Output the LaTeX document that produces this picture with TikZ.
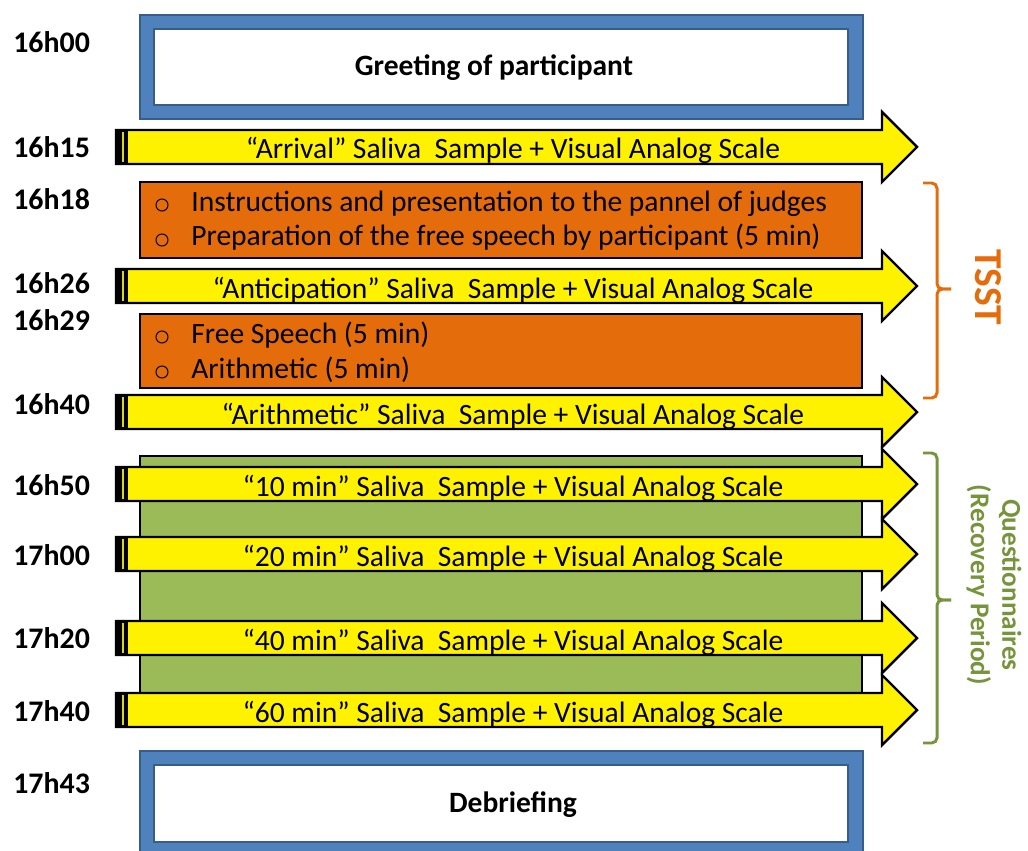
\documentclass[tikz,border=0pt]{standalone}
\usepackage{fontspec}
\setmainfont{Carlito}

\definecolor{boxblue}{HTML}{4F81BD}
\definecolor{boxbluedark}{HTML}{385D8A}
\definecolor{tsstorange}{HTML}{E46C0A}
\definecolor{recgreen}{HTML}{9BBB59}
\definecolor{recgreendark}{HTML}{77933C}

\tikzset{
	timelabel/.style={anchor=west, inner sep=0pt, font=\fontsize{17}{20}\selectfont\bfseries},
	bodytext/.style={anchor=base west, inner sep=0pt, font=\fontsize{16.8}{20}\selectfont},
	arrowtext/.style={anchor=base, font=\fontsize{16.8}{20}\selectfont},
	samplearrow/.style={fill=yellow, draw=black, line width=1.4pt, line join=miter},
	phasebox/.style={draw=black, line width=1.3pt},
	bracket/.style={line width=1.7pt, rounded corners=3pt},
}

\begin{document}
\begin{tikzpicture}[x=0.02cm, y=-0.02cm]

		\useasboundingbox (0, 0) rectangle (1028, 851);

		\draw [draw=boxbluedark, fill=boxblue, line width=0.8pt] (140, 15) rectangle (863, 119);
		\draw [draw=boxbluedark, fill=white, line width=0.8pt] (154, 29) rectangle (848, 105);
		\node [font=\fontsize{16.8}{20}\selectfont\bfseries] (greeting) at (494, 68) {Greeting of participant};

		\draw [phasebox, fill=tsstorange] (140, 182) rectangle (862, 258);
		\draw [line width=0.6pt] (162, 205) circle (6);
		\node [bodytext] (instr) at (191, 212) {Instructions and presentation to the pannel of judges};
		\draw [line width=0.6pt] (162, 240) circle (6);
		\node [bodytext] (prep) at (191, 246) {Preparation of the free speech by participant (5 min)};

		\draw [phasebox, fill=tsstorange] (140, 314) rectangle (862, 388);
		\draw [line width=0.6pt] (162, 337) circle (6);
		\node [bodytext] (speech) at (191, 343) {Free Speech (5 min)};
		\draw [line width=0.6pt] (162, 372) circle (6);
		\node [bodytext] (arith) at (191, 378) {Arithmetic (5 min)};

		\draw [phasebox, fill=recgreen] (140, 456) rectangle (862, 727);

		\foreach \y/\lbl in {147/Arrival, 286/Anticipation, 412/Arithmetic, 484/10 min, 554/20 min, 638/40 min, 710/60 min} {
			\draw [samplearrow] (116, \y-17) -- (882, \y-17) -- (882, \y-35) -- (917, \y) -- (882, \y+35) -- (882, \y+17) -- (116, \y+17) -- cycle;
			\fill (116, \y-17) rectangle (128, \y+17);
			\draw [yellow!85!black, line width=0.8pt] (123, \y-15) -- (123, \y+15);
			\node [arrowtext] (sample\y) at (513, \y+12) {“\lbl”~Saliva~ Sample + Visual Analog Scale};
		}

		\draw [draw=boxbluedark, fill=boxblue, line width=0.8pt] (140, 751) rectangle (863, 857);
		\draw [draw=boxbluedark, fill=white, line width=0.8pt] (154, 765) rectangle (848, 842);
		\node [font=\fontsize{16.8}{20}\selectfont\bfseries] (debrief) at (513, 805) {Debriefing};

		\foreach \t/\y in {16h00/42, 16h15/147, 16h18/199, 16h26/283, 16h29/320, 16h40/404, 16h50/485, 17h00/555, 17h20/638, 17h40/711, 17h43/783}
			\node [timelabel] (t\t) at (13, \y) {\t};

		\draw [bracket, tsstorange] (923, 183) -- (937, 183) -- (937, 289) -- (951, 289);
		\draw [bracket, tsstorange] (951, 289) -- (937, 289) -- (937, 398) -- (923, 398);
		\node [rotate=-90, text=tsstorange, font=\fontsize{22.5}{26}\selectfont\bfseries] (tsst) at (988, 287) {TSST};

		\draw [bracket, recgreendark] (923, 453) -- (937, 453) -- (937, 600) -- (951, 600);
		\draw [bracket, recgreendark] (951, 600) -- (937, 600) -- (937, 743) -- (923, 743);
		\node [rotate=-90, align=center, text=recgreendark, font=\fontsize{15.5}{18}\selectfont\bfseries] (quest) at (994, 585) {Questionnaires\\(Recovery Period)};
	\end{tikzpicture}
\end{document}
